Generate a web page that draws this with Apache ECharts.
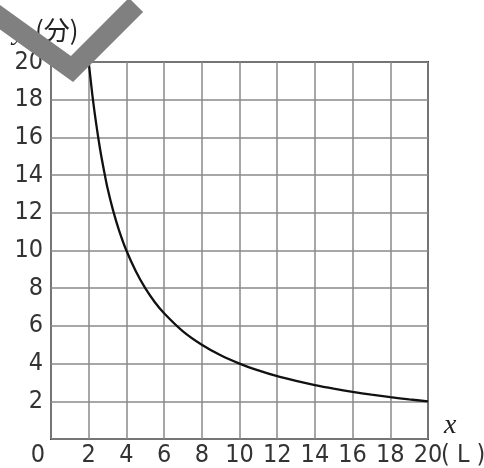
<!DOCTYPE html>
<html>
<head>
<meta charset="utf-8">
<script src="https://cdn.jsdelivr.net/npm/echarts@6/dist/echarts.min.js"></script>
<style>
  html, body { margin: 0; padding: 0; background: #fff; }
  #chart { width: 484px; height: 468px; }
</style>
</head>
<body>
<div id="chart"></div>
<script>
// x: 水の量 (L), y: 時間 (分)
var xValues = [2, 2.2, 2.4, 2.6, 2.8, 3, 3.3, 3.6, 4, 4.5, 5, 5.5, 6, 7, 8, 9, 10, 11, 12, 13, 14, 15, 16, 17, 18, 19, 20]
var yValues = [20, 18.2, 16.7, 15.4, 14.3, 13.3, 12.1, 11.1, 10, 8.9, 8, 7.27, 6.67, 5.71, 5, 4.44, 4, 3.64, 3.33, 3.08, 2.86, 2.67, 2.5, 2.35, 2.22, 2.1, 2]
var xTicks = ['0', '2', '4', '6', '8', '10', '12', '14', '16', '18', '20']
var yTicks = ['', '2', '4', '6', '8', '10', '12', '14', '16', '18', '20']

var labelFont = '"Liberation Sans Narrow", "DejaVu Sans Condensed", "Noto Sans CJK JP", sans-serif'
var chart = echarts.init(document.getElementById('chart'))

var points = xValues.map(function (x, i) { return [x, yValues[i]] })

chart.setOption({
  animation: false,
  grid: { left: 51, right: 56, top: 62, bottom: 27, show: true, borderColor: '#3a3a3a', borderWidth: 2 },
  xAxis: {
    type: 'value', min: 0, max: 20, interval: 2,
    axisLine: { show: false },
    axisTick: { show: false },
    splitLine: { lineStyle: { color: '#8a8a8a', width: 1.5 } },
    axisLabel: {
      margin: 4,
      fontSize: 25, color: '#333', fontFamily: labelFont,
      formatter: function (v) {
        var s = xTicks[Math.round(v / 2)]
        return v === 0 ? '{z|' + s + '}' : s
      },
      rich: { z: { fontSize: 25, color: '#333', fontFamily: labelFont, padding: [0, 26, 0, 0] } }
    }
  },
  yAxis: {
    type: 'value', min: 0, max: 20, interval: 2,
    axisLine: { show: false },
    axisTick: { show: false },
    splitLine: { lineStyle: { color: '#8a8a8a', width: 1.5 } },
    axisLabel: {
      margin: 8,
      fontSize: 25, color: '#333', fontFamily: labelFont,
      formatter: function (v) { return yTicks[Math.round(v / 2)] }
    }
  },
  series: [{
    type: 'line',
    data: points,
    smooth: 0.3,
    showSymbol: false,
    lineStyle: { color: '#111', width: 2.3 }
  }],
  graphic: [
    { type: 'text', left: 444, top: 412, style: { text: 'x', font: 'italic 28px "Liberation Serif"', fill: '#222' } },
    { type: 'text', left: 441, top: 443, style: { text: '( L )', font: '25px "Liberation Sans Narrow", "DejaVu Sans Condensed", sans-serif', fill: '#333' } },
    { type: 'text', left: 13, top: 18, style: { text: 'y', font: 'italic 28px "Liberation Serif"', fill: '#222' } },
    { type: 'text', left: 35, top: 17, style: { text: '(分)', font: '26px "Noto Sans CJK JP"', fill: '#222' } },
    {
      type: 'polyline', z: 100,
      shape: { points: [[-6, 13], [72, 69], [136, 5]] },
      style: { stroke: '#808080', lineWidth: 20, fill: null, lineJoin: 'miter', lineCap: 'butt' }
    }
  ]
})
</script>
</body>
</html>
